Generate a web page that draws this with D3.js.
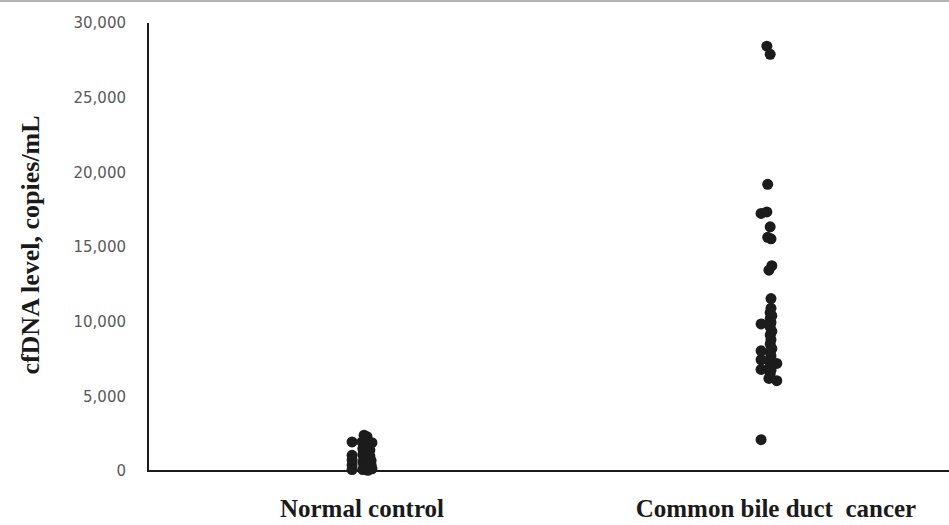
<!DOCTYPE html>
<html>
<head>
<meta charset="utf-8">
<script src="https://cdn.jsdelivr.net/npm/d3@7"></script>
<style>
  html, body { margin: 0; padding: 0; background: #fff; }
  svg { display: block; }
</style>
</head>
<body>
<svg id="chart" width="949" height="525"></svg>
<script>
// Groups and their x positions
const categories = ["Normal control", "Common bile duct  cancer"];
const categoryX = [1, 2];

// Y-axis ticks
const yTicks = [0, 5000, 10000, 15000, 20000, 25000, 30000];

// Normal control: scattered x position and cfDNA level (copies/mL)
const normalX = [0.976, 0.976, 0.976, 0.976, 0.976, 1.005, 1.012, 1.024, 1.000, 1.007,
                 1.002, 1.005, 1.002, 1.005, 1.002, 1.005, 1.002, 1.019, 1.019, 1.022,
                 1.022, 1.024, 1.014];
const normalValues = [1950, 1050, 750, 400, 100, 2400, 2300, 1900, 1950, 1700,
                      1500, 1300, 1100, 850, 600, 350, 100, 1400, 1000, 700,
                      400, 150, 50];

// Common bile duct cancer: scattered x position and cfDNA level (copies/mL)
const cancerX = [1.978, 1.986, 1.980, 1.964, 1.978, 1.986, 1.980, 1.988, 1.990, 1.983,
                 1.988, 1.988, 1.986, 1.990, 1.986, 1.964, 1.988, 1.986, 1.990, 1.986,
                 1.988, 1.986, 1.990, 1.964, 1.986, 1.988, 1.964, 1.983, 2.002, 1.986,
                 1.964, 1.988, 1.986, 1.983, 2.002, 1.964];
const cancerValues = [28450, 27900, 19200, 17250, 17350, 16350, 15650, 15550, 13750, 13450,
                      11550, 10900, 10600, 10400, 10200, 9850, 9950, 9650, 9350, 9100,
                      8800, 8500, 8200, 8050, 7950, 7700, 7450, 7400, 7200, 7050,
                      6800, 6750, 6500, 6200, 6050, 2100];

const svg = d3.select("#chart");
const W = 949, H = 525;
const plotLeft = 148, plotRight = 949, plotTop = 23, plotBottom = 471;

const x = d3.scaleLinear().domain([0.483, 2.418]).range([plotLeft, plotRight]);
const y = d3.scaleLinear().domain([0, 30000]).range([plotBottom, plotTop]);

// thin grey rule along the top edge
svg.append("line")
  .attr("x1", 0).attr("x2", W).attr("y1", 1).attr("y2", 1)
  .attr("stroke", "#b3b3b3").attr("stroke-width", 2);

// Y axis: labels only, with a plain vertical rule
const yAxis = d3.axisLeft(y)
  .tickValues(yTicks)
  .tickSize(0)
  .tickPadding(22)
  .tickFormat(d3.format(","));
const gy = svg.append("g").attr("transform", `translate(${plotLeft},0)`).call(yAxis);
gy.select(".domain").remove();
gy.selectAll("text")
  .attr("fill", "#595959")
  .style("font-family", "'DejaVu Sans', sans-serif")
  .style("font-size", "15px");

svg.append("line")
  .attr("x1", plotLeft).attr("x2", plotLeft)
  .attr("y1", y(30000)).attr("y2", plotBottom)
  .attr("stroke", "#1a1a1a").attr("stroke-width", 2);

// X axis rule and category labels
svg.append("line")
  .attr("x1", plotLeft - 1).attr("x2", plotRight)
  .attr("y1", plotBottom).attr("y2", plotBottom)
  .attr("stroke", "#1a1a1a").attr("stroke-width", 2);

svg.append("g").selectAll("text")
  .data(categories)
  .join("text")
  .attr("x", (d, i) => x(categoryX[i]))
  .attr("y", 517)
  .attr("text-anchor", "middle")
  .style("font-family", "'Liberation Serif', 'Times New Roman', serif")
  .style("font-weight", "bold")
  .style("font-size", "25px")
  .style("white-space", "pre")
  .attr("fill", "#1a1a1a")
  .text(d => d);

// Y axis title
svg.append("text")
  .attr("transform", `translate(39,${(113 + 377) / 2}) rotate(-90)`)
  .attr("text-anchor", "middle")
  .style("font-family", "'Liberation Serif', 'Times New Roman', serif")
  .style("font-weight", "bold")
  .style("font-size", "26px")
  .attr("fill", "#1a1a1a")
  .text("cfDNA level, copies/mL");

// Points
const points = normalValues.map((v, i) => ({ x: normalX[i], v }))
  .concat(cancerValues.map((v, i) => ({ x: cancerX[i], v })));

svg.append("g").selectAll("circle")
  .data(points)
  .join("circle")
  .attr("cx", d => x(d.x))
  .attr("cy", d => y(d.v))
  .attr("r", 5.5)
  .attr("fill", "#1c1c1c");
</script>
</body>
</html>
